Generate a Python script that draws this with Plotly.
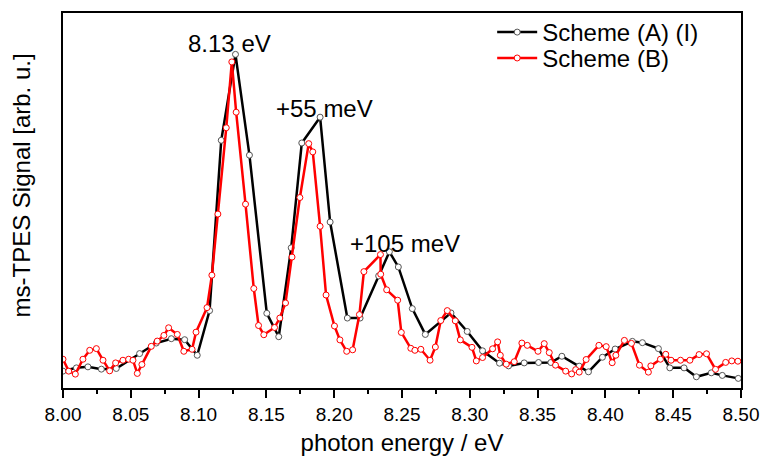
import plotly.graph_objects as go

# Scheme (A) (I)
energy_a = [8.0000, 8.0099, 8.0184, 8.0283, 8.0393, 8.0565, 8.0688, 8.0799, 8.0897, 8.0990,
            8.1081, 8.1167, 8.1272, 8.1375, 8.1503, 8.1591, 8.1683, 8.1761, 8.1896, 8.1970,
            8.2097, 8.2191, 8.2328, 8.2407, 8.2473, 8.2576, 8.2672, 8.2861, 8.2981, 8.3094,
            8.3219, 8.3286, 8.3401, 8.3507, 8.3598, 8.3679, 8.3807, 8.3875, 8.3978, 8.4072,
            8.4199, 8.4273, 8.4391, 8.4475, 8.4580, 8.4671, 8.4781, 8.4862, 8.4980]
signal_a = [17, 20.3, 21.3, 19, 19.7, 34.7, 45.3, 49.7, 48.7, 33,
            78, 249.7, 336.3, 234.7, 75.3, 51.7, 141.3, 247, 273, 167.3,
            70.5, 70.5, 113, 137.3, 122, 80, 54, 75.7, 57, 37.5,
            25, 22.3, 25.3, 25.7, 25.7, 32, 22, 16.3, 31, 39.3,
            47, 45.7, 39.7, 20.3, 20.3, 11.3, 15.3, 12.7, 9.7]

# Scheme (B)
energy_b = [8.0000, 8.0042, 8.0091, 8.0147, 8.0197, 8.0246, 8.0295, 8.0344, 8.0388, 8.0442,
            8.0484, 8.0516, 8.0548, 8.0582, 8.0651, 8.0695, 8.0744, 8.0779, 8.0843, 8.0891,
            8.0952, 8.0981, 8.1062, 8.1098, 8.1142, 8.1204, 8.1245, 8.1277, 8.1346, 8.1407,
            8.1442, 8.1481, 8.1560, 8.1599, 8.1641, 8.1689, 8.1747, 8.1812, 8.1842, 8.1896,
            8.1940, 8.2002, 8.2042, 8.2092, 8.2136, 8.2186, 8.2219, 8.2341, 8.2343, 8.2387,
            8.2468, 8.2495, 8.2565, 8.2595, 8.2639, 8.2707, 8.2746, 8.2786, 8.2834, 8.2893,
            8.2930, 8.3016, 8.3048, 8.3094, 8.3168, 8.3205, 8.3225, 8.3269, 8.3328, 8.3384,
            8.3424, 8.3503, 8.3549, 8.3586, 8.3632, 8.3707, 8.3751, 8.3781, 8.3807, 8.3858,
            8.3952, 8.4006, 8.4050, 8.4077, 8.4140, 8.4192, 8.4251, 8.4317, 8.4335, 8.4406,
            8.4445, 8.4484, 8.4554, 8.4623, 8.4691, 8.4746, 8.4812, 8.4887, 8.4932, 8.4977]
signal_b = [29, 17, 14, 29, 38, 39.7, 28, 17.3, 25.3, 28,
            29, 28, 14.7, 23.7, 42, 47.3, 53, 60.7, 54, 37,
            39, 56.3, 81, 113.7, 175.3, 262.3, 328.7, 278, 185.3, 100.3,
            63, 53.7, 61, 70.5, 85.7, 132, 192, 246.3, 238, 163,
            93.7, 62.5, 48.5, 37, 38.5, 74, 117.3, 134.5, 114.7, 99,
            88.5, 56, 40, 38, 39, 28, 41.3, 68, 78, 67.7,
            48.5, 41, 27.3, 30.7, 39.5, 46.5, 33, 24, 26.5, 45.3,
            43, 37, 44.7, 35.7, 23, 17, 14.2, 18.5, 16, 28.7,
            43, 41.7, 25.5, 33, 48, 45, 23, 16, 22.3, 29,
            34, 28, 28, 28, 33.7, 34.5, 18.8, 25.8, 27.3, 27]

tick_vals = [8.00, 8.05, 8.10, 8.15, 8.20, 8.25, 8.30, 8.35, 8.40, 8.45, 8.50]
tick_text = ["8.00", "8.05", "8.10", "8.15", "8.20", "8.25", "8.30", "8.35", "8.40", "8.45", "8.50"]

peak_labels = ["8.13 eV", "+55 meV", "+105 meV"]
peak_x = [8.1225, 8.1930, 8.2525]
peak_y = [347, 282, 146]

y_title = "ms-TPES Signal [arb. u.]"
x_title = "photon energy / eV"

FONT = "Liberation Sans, Arial, sans-serif"

fig = go.Figure()
fig.add_trace(go.Scatter(
    x=energy_a, y=signal_a, mode="lines+markers", name="Scheme (A) (I)",
    line=dict(color="black", width=2.5),
    marker=dict(symbol="circle", size=6, color="white",
                line=dict(color="#555555", width=1)),
    legend="legend",
))
fig.add_trace(go.Scatter(
    x=energy_b, y=signal_b, mode="lines+markers", name="Scheme (B)",
    line=dict(color="#ff0000", width=2.5),
    marker=dict(symbol="circle", size=6, color="white",
                line=dict(color="#ff0000", width=1)),
    legend="legend2",
))

for t, xx, yy in zip(peak_labels, peak_x, peak_y):
    fig.add_annotation(x=xx, y=yy, text=t, showarrow=False,
                       font=dict(family=FONT, size=24, color="black"))

# y-axis title placed as a rotated annotation to match the reference position
fig.add_annotation(xref="paper", yref="paper", x=-0.0605, y=0.54, text=y_title,
                   textangle=-90, showarrow=False, xanchor="center", yanchor="middle",
                   font=dict(family=FONT, size=24, color="black"))

leg_common = dict(xanchor="left", yanchor="middle", bgcolor="rgba(0,0,0,0)",
                  font=dict(family=FONT, size=24, color="black"), itemwidth=40)

fig.update_layout(
    width=761, height=460,
    margin=dict(l=63, r=20, t=10, b=72),
    paper_bgcolor="white", plot_bgcolor="white",
    font=dict(family=FONT, color="black"),
    showlegend=True,
    legend=dict(x=0.633, y=0.948, **leg_common),
    legend2=dict(x=0.633, y=0.879, **leg_common),
    xaxis=dict(
        range=[8.0, 8.5], tickmode="array", tickvals=tick_vals, ticktext=tick_text,
        ticks="outside", ticklen=8, tickwidth=1.5, tickcolor="black",
        minor=dict(dtick=0.025, ticks="outside", ticklen=4, tickwidth=1.5, tickcolor="black"),
        showline=True, linewidth=2, linecolor="black", mirror=True,
        showgrid=False, zeroline=False, automargin=False,
        tickfont=dict(family=FONT, size=19),
        title=dict(text=x_title, font=dict(family=FONT, size=24), standoff=10),
    ),
    yaxis=dict(
        range=[0, 378], showticklabels=False, ticks="",
        showline=True, linewidth=2, linecolor="black", mirror=True,
        showgrid=False, zeroline=False, automargin=False,
    ),
)

fig.write_html("out.html")
